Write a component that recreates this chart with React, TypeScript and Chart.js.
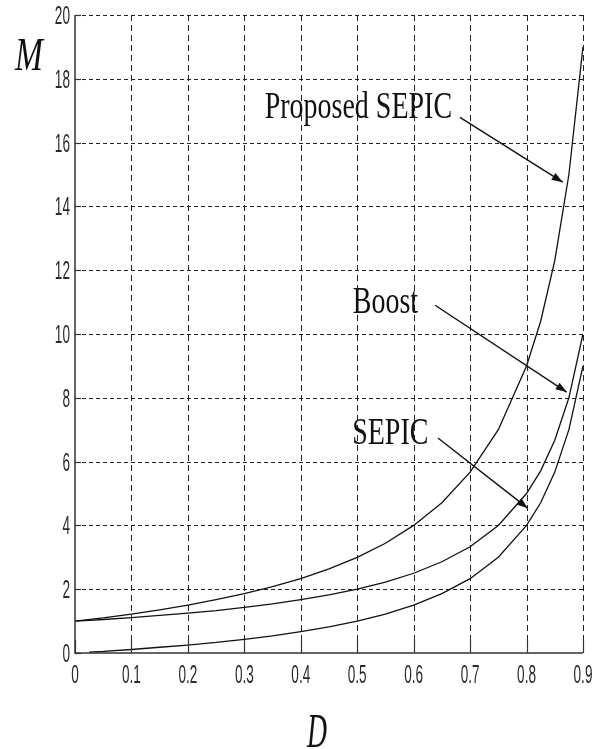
import React, { useEffect, useRef } from "react";
import { Chart, registerables } from "chart.js";

Chart.register(...registerables);

// Duty ratio D samples
const dValues = [0, 0.05, 0.1, 0.15, 0.2, 0.25, 0.3, 0.35, 0.4, 0.45, 0.5, 0.55, 0.6, 0.65, 0.7, 0.75, 0.8, 0.825, 0.85, 0.875, 0.9];
// Voltage gain M
const proposedSepic = [1.0, 1.1, 1.22, 1.35, 1.5, 1.67, 1.86, 2.08, 2.33, 2.64, 3.0, 3.44, 4.0, 4.71, 5.67, 7.0, 9.0, 10.4, 12.3, 15.0, 19.0];
const boost = [1.0, 1.05, 1.11, 1.18, 1.25, 1.33, 1.43, 1.54, 1.67, 1.82, 2.0, 2.22, 2.5, 2.86, 3.33, 4.0, 5.0, 5.71, 6.67, 8.0, 10.0];
const sepicD = [0.025, 0.05, 0.1, 0.15, 0.2, 0.25, 0.3, 0.35, 0.4, 0.45, 0.5, 0.55, 0.6, 0.65, 0.7, 0.75, 0.8, 0.825, 0.85, 0.875, 0.9];
const sepic = [0.03, 0.05, 0.11, 0.18, 0.25, 0.33, 0.43, 0.54, 0.67, 0.82, 1.0, 1.22, 1.5, 1.86, 2.33, 3.0, 4.0, 4.71, 5.67, 7.0, 9.0];

// Tick labels
const xTicks = [0, 0.1, 0.2, 0.3, 0.4, 0.5, 0.6, 0.7, 0.8, 0.9];
const yTicks = [0, 2, 4, 6, 8, 10, 12, 14, 16, 18, 20];

// Annotations: label text with arrow (in data units)
const annotations = [
  { text: "Proposed SEPIC", tx: 0.336, ty: 16.76, ax: 0.682, ay: 16.79, bx: 0.864, by: 14.76 },
  { text: "Boost", tx: 0.492, ty: 10.65, ax: 0.638, ay: 10.9, bx: 0.871, by: 8.18 },
  { text: "SEPIC", tx: 0.491, ty: 6.55, ax: 0.643, ay: 6.74, bx: 0.802, by: 4.54 },
];

function stretchText(ctx: CanvasRenderingContext2D, text: string, x: number, y: number, font: string, sx: number, sy: number, align: CanvasTextAlign, color: string) {
  ctx.save();
  ctx.translate(x, y);
  ctx.scale(sx, sy);
  ctx.font = font;
  ctx.textAlign = align;
  ctx.textBaseline = "alphabetic";
  ctx.fillStyle = color;
  ctx.fillText(text, 0, 0);
  ctx.restore();
}

const axesPlugin = {
  id: "matlabAxes",
  beforeDatasetsDraw(chart: any) {
    const { ctx, chartArea, scales } = chart;
    const { left, right, top, bottom } = chartArea;
    const xs = scales.x;
    const ys = scales.y;
    ctx.save();
    ctx.strokeStyle = "#222";
    ctx.lineWidth = 1;
    ctx.setLineDash([6, 4]);
    for (const v of xTicks) {
      if (v === 0) continue;
      const px = Math.round(xs.getPixelForValue(v)) + 0.5;
      ctx.beginPath();
      ctx.moveTo(px, top);
      ctx.lineTo(px, bottom);
      ctx.stroke();
    }
    ctx.setLineDash([4, 3]);
    for (const v of yTicks) {
      if (v === 0) continue;
      const py = Math.round(ys.getPixelForValue(v)) + 0.5;
      ctx.beginPath();
      ctx.moveTo(left, py);
      ctx.lineTo(right, py);
      ctx.stroke();
    }
    ctx.restore();
  },
  afterDatasetsDraw(chart: any) {
    const { ctx, chartArea, scales } = chart;
    const { left, right, top, bottom } = chartArea;
    const xs = scales.x;
    const ys = scales.y;
    ctx.save();
    ctx.setLineDash([]);
    ctx.strokeStyle = "#333";
    ctx.lineWidth = 1.5;
    // axes
    ctx.beginPath();
    ctx.moveTo(left, top);
    ctx.lineTo(left, bottom);
    ctx.lineTo(right, bottom);
    ctx.stroke();
    // ticks
    ctx.lineWidth = 1.2;
    for (const v of xTicks) {
      const px = Math.round(xs.getPixelForValue(v)) + 0.5;
      ctx.beginPath();
      ctx.moveTo(px, bottom);
      ctx.lineTo(px, bottom - 13);
      ctx.stroke();
    }
    for (const v of yTicks) {
      const py = Math.round(ys.getPixelForValue(v)) + 0.5;
      ctx.beginPath();
      ctx.moveTo(left, py);
      ctx.lineTo(left + 6, py);
      ctx.stroke();
    }
    // tick labels
    const tickFont = '16px "Liberation Sans", Arial, sans-serif';
    for (const v of xTicks) {
      const px = xs.getPixelForValue(v);
      stretchText(ctx, String(v), px, bottom + 30, tickFont, 0.85, 1.57, "center", "#2a2a2a");
    }
    for (const v of yTicks) {
      const py = ys.getPixelForValue(v);
      stretchText(ctx, String(v), left - 5, py + 9, tickFont, 0.85, 1.57, "right", "#2a2a2a");
    }
    // axis titles
    stretchText(ctx, "M", 29, 70, 'italic 36px "Liberation Serif", "Times New Roman", serif', 0.93, 1.3, "center", "#111");
    stretchText(ctx, "D", 317, 747, 'italic 36px "Liberation Serif", "Times New Roman", serif', 0.77, 1.35, "center", "#111");
    // annotations
    for (const a of annotations) {
      stretchText(ctx, a.text, xs.getPixelForValue(a.tx), ys.getPixelForValue(a.ty), '28px "Liberation Serif", "Times New Roman", serif', 1, 1.38, "left", "#111");
      const x1 = xs.getPixelForValue(a.ax);
      const y1 = ys.getPixelForValue(a.ay);
      const x2 = xs.getPixelForValue(a.bx);
      const y2 = ys.getPixelForValue(a.by);
      ctx.strokeStyle = "#111";
      ctx.fillStyle = "#111";
      ctx.lineWidth = 1.4;
      ctx.beginPath();
      ctx.moveTo(x1, y1);
      ctx.lineTo(x2, y2);
      ctx.stroke();
      const ang = Math.atan2(y2 - y1, x2 - x1);
      const len = 11;
      const hw = 4;
      const bxp = x2 - len * Math.cos(ang);
      const byp = y2 - len * Math.sin(ang);
      ctx.beginPath();
      ctx.moveTo(x2, y2);
      ctx.lineTo(bxp + hw * Math.sin(ang), byp - hw * Math.cos(ang));
      ctx.lineTo(bxp - hw * Math.sin(ang), byp + hw * Math.cos(ang));
      ctx.closePath();
      ctx.fill();
    }
    ctx.restore();
  },
};

export default function App() {
  const canvasRef = useRef<HTMLCanvasElement | null>(null);

  useEffect(() => {
    document.body.style.margin = "0";
    document.body.style.background = "#fff";
    const canvas = canvasRef.current;
    if (!canvas) return;
    const mk = (xsArr: number[], ysArr: number[]) => xsArr.map((d, i) => ({ x: d, y: ysArr[i] }));
    const lineStyle = {
      borderColor: "#111",
      borderWidth: 1.3,
      pointRadius: 0,
      fill: false,
      tension: 0,
    };
    const chart = new Chart(canvas, {
      type: "line",
      data: {
        datasets: [
          { label: "Proposed SEPIC", data: mk(dValues, proposedSepic), ...lineStyle },
          { label: "Boost", data: mk(dValues, boost), ...lineStyle },
          { label: "SEPIC", data: mk(sepicD, sepic), ...lineStyle },
        ],
      },
      options: {
        responsive: false,
        animation: false,
        devicePixelRatio: 1,
        layout: { padding: { left: 75, right: 17, top: 15, bottom: 96 } },
        plugins: { legend: { display: false }, tooltip: { enabled: false } },
        scales: {
          x: { type: "linear", min: 0, max: 0.9, display: false },
          y: { type: "linear", min: 0, max: 20, display: false },
        },
      },
      plugins: [axesPlugin],
    } as any);
    return () => chart.destroy();
  }, []);

  return (
    <div style={{ width: 600, height: 749, background: "#fff" }}>
      <canvas ref={canvasRef} width={600} height={749} style={{ display: "block" }} />
    </div>
  );
}
